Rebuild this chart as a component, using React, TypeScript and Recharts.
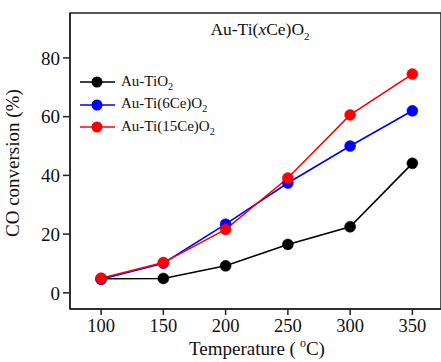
import { Customized, Line, LineChart, ReferenceArea, XAxis, YAxis } from "recharts"

const temperatures = [100, 150, 200, 250, 300, 350]
const auTiO2 = [4.8, 4.9, 9.2, 16.5, 22.5, 44.1]
const auTi6Ce = [4.6, 10.1, 23.4, 37.4, 50.0, 62.0]
const auTi15Ce = [5.0, 10.3, 21.6, 39.1, 60.6, 74.5]

const xMajor = [100, 150, 200, 250, 300, 350]
const xMinor = [75, 125, 175, 225, 275, 325, 375]
const yMajor = [0, 20, 40, 60, 80]
const yMinor = [10, 30, 50, 70, 90]

const series = [
  { key: "tio2", name: "Au-TiO", sub: "2", color: "#000000", values: auTiO2 },
  { key: "ce6", name: "Au-Ti(6Ce)O", sub: "2", color: "#0000ff", values: auTi6Ce },
  { key: "ce15", name: "Au-Ti(15Ce)O", sub: "2", color: "#ff0000", values: auTi15Ce },
]

const data = temperatures.map((t, i) => ({
  t,
  tio2: auTiO2[i],
  ce6: auTi6Ce[i],
  ce15: auTi15Ce[i],
}))

const font = "Liberation Serif"
const axisColor = "#222"

const noTick = () => <g />

function LegendBox() {
  return (
    <div style={{ position: "absolute", left: 79, top: 71, fontFamily: font, fontSize: 15, color: "#111" }}>
      {series.map((s) => (
        <div key={s.key} style={{ display: "flex", alignItems: "center", height: 22.5 }}>
          <svg width={38} height={14} style={{ marginRight: 4 }}>
            <line x1={1} y1={7} x2={36} y2={7} stroke={s.color} strokeWidth={1.6} />
            <circle cx={18} cy={7} r={5.5} fill={s.color} />
          </svg>
          <span>
            {s.name}
            <sub style={{ fontSize: 10 }}>{s.sub}</sub>
          </span>
        </div>
      ))}
    </div>
  )
}

function Texts() {
  return (
    <g fontFamily={font} fill="#111">
      <text x={260} y={35} textAnchor="middle" fontSize={17.5}>
        Au-Ti(<tspan fontStyle="italic">x</tspan>Ce)O
        <tspan fontSize={11} dy={5}>2</tspan>
      </text>
      <text x={257} y={355} textAnchor="middle" fontSize={19}>
        Temperature (<tspan dx={4} fontSize={12} dy={-8}>o</tspan>
        <tspan dy={8}>C)</tspan>
      </text>
    </g>
  )
}

export default function App() {
  return (
    <div style={{ position: "absolute", left: 0, top: 0, width: 441, height: 362, background: "#fff", fontFamily: font }}>
      <LineChart width={441} height={362} data={data} margin={{ top: 13, right: 0, bottom: 0, left: 0 }} style={{ fontFamily: font }}>
        <ReferenceArea x1={75} x2={373} y1={-5.5} y2={95.3} fill="none" stroke={axisColor} strokeWidth={1.5} ifOverflow="extendDomain" />
        <XAxis
          dataKey="t"
          type="number"
          domain={[75, 373]}
          ticks={xMajor}
          height={53}
          tickSize={6}
          tickMargin={4}
          stroke={axisColor}
          strokeWidth={1.5}
          tick={{ fontFamily: font, fontSize: 18.5, fill: "#111" }}
          allowDataOverflow
        />
        <XAxis
          xAxisId="minor"
          dataKey="t"
          type="number"
          domain={[75, 373]}
          ticks={xMinor}
          height={0}
          tickSize={4}
          axisLine={false}
          stroke={axisColor}
          allowDataOverflow
          tick={noTick}
        />
        <YAxis
          type="number"
          domain={[-5.5, 95.3]}
          ticks={yMajor}
          width={70}
          tickSize={7}
          tickMargin={3}
          stroke={axisColor}
          strokeWidth={1.5}
          allowDataOverflow
          tick={{ fontFamily: font, fontSize: 19, fill: "#111" }}
          label={{ value: "CO conversion (%)", angle: -90, position: "insideLeft", offset: 12, fontFamily: font, fontSize: 19, fill: "#111", dy: 76 }}
        />
        <YAxis
          yAxisId="minor"
          type="number"
          domain={[-5.5, 95.3]}
          ticks={yMinor}
          width={0}
          tickSize={4}
          axisLine={false}
          stroke={axisColor}
          allowDataOverflow
          tick={noTick}
        />
        {series.map((s) => (
          <Line
            key={s.key}
            dataKey={s.key}
            name={s.name}
            stroke={s.color}
            strokeWidth={1.6}
            dot={{ r: 5.5, fill: s.color, stroke: s.color, strokeWidth: 0.5 }}
            activeDot={false}
            isAnimationActive={false}
          />
        ))}
        <Customized component={Texts} />
      </LineChart>
      <LegendBox />
    </div>
  )
}
